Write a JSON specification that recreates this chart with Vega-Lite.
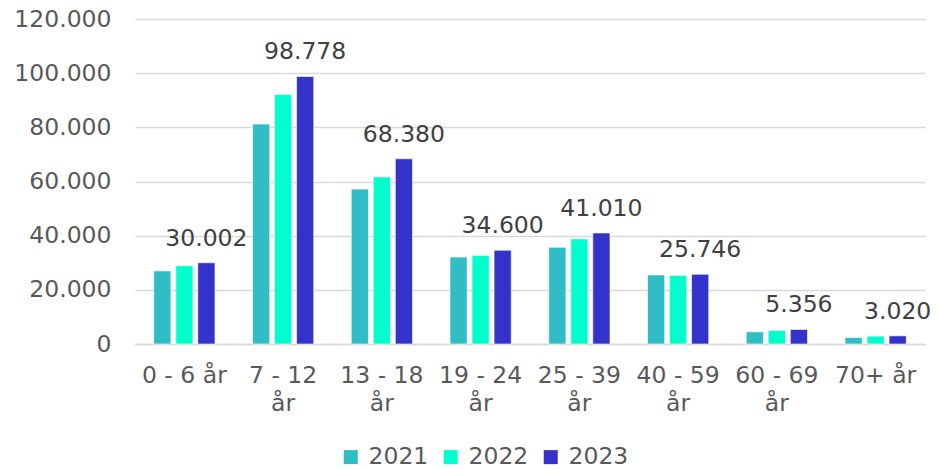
{
  "$schema": "https://vega.github.io/schema/vega-lite/v6.json",
  "autosize": {"type": "none"},
  "padding": {"left": 135, "top": 19, "right": 13, "bottom": 125},
  "width": 790,
  "height": 325,
  "background": "#ffffff",
  "config": {
    "locale": {"number": {"decimal": ",", "thousands": ".", "grouping": [3], "currency": ["", " kr"]}},
    "font": "DejaVu Sans",
    "view": {"stroke": null}
  },
  "data": {
    "values": [
      {"group": "0 - 6 år", "year": "2021", "value": 27000},
      {"group": "0 - 6 år", "year": "2022", "value": 28900},
      {"group": "0 - 6 år", "year": "2023", "value": 30002},
      {"group": "7 - 12 år", "year": "2021", "value": 81200},
      {"group": "7 - 12 år", "year": "2022", "value": 92100},
      {"group": "7 - 12 år", "year": "2023", "value": 98778},
      {"group": "13 - 18 år", "year": "2021", "value": 57200},
      {"group": "13 - 18 år", "year": "2022", "value": 61700},
      {"group": "13 - 18 år", "year": "2023", "value": 68380},
      {"group": "19 - 24 år", "year": "2021", "value": 32100},
      {"group": "19 - 24 år", "year": "2022", "value": 32700},
      {"group": "19 - 24 år", "year": "2023", "value": 34600},
      {"group": "25 - 39 år", "year": "2021", "value": 35700},
      {"group": "25 - 39 år", "year": "2022", "value": 38800},
      {"group": "25 - 39 år", "year": "2023", "value": 41010},
      {"group": "40 - 59 år", "year": "2021", "value": 25500},
      {"group": "40 - 59 år", "year": "2022", "value": 25300},
      {"group": "40 - 59 år", "year": "2023", "value": 25746},
      {"group": "60 - 69 år", "year": "2021", "value": 4500},
      {"group": "60 - 69 år", "year": "2022", "value": 5000},
      {"group": "60 - 69 år", "year": "2023", "value": 5356},
      {"group": "70+ år", "year": "2021", "value": 2400},
      {"group": "70+ år", "year": "2022", "value": 2900},
      {"group": "70+ år", "year": "2023", "value": 3020}
    ]
  },
  "encoding": {
    "x": {
      "field": "group",
      "type": "nominal",
      "sort": null,
      "scale": {"paddingInner": 0.38, "paddingOuter": 0.19},
      "axis": {
        "title": null,
        "labelAngle": 0,
        "labelFontSize": 23.5,
        "labelColor": "#595959",
        "labelPadding": 19,
        "labelLineHeight": 28,
        "labelExpr": "length(datum.label) > 8 ? [slice(datum.label, 0, -3), 'år'] : datum.label",
        "ticks": false,
        "domainColor": "#d9d9d9",
        "domainWidth": 1.5,
        "labelLimit": 200
      }
    },
    "xOffset": {"field": "year", "type": "nominal", "scale": {"paddingInner": 0.22, "paddingOuter": 0}},
    "y": {
      "field": "value",
      "type": "quantitative",
      "scale": {"domain": [0, 120000], "nice": false},
      "axis": {
        "title": null,
        "values": [0, 20000, 40000, 60000, 80000, 100000, 120000],
        "format": ",d",
        "labelFontSize": 23.5,
        "labelColor": "#595959",
        "labelPadding": 24,
        "ticks": false,
        "domain": false,
        "gridColor": "#d9d9d9",
        "gridWidth": 1.3
      }
    }
  },
  "layer": [
    {
      "mark": {"type": "bar", "stroke": "#ffffff", "strokeOpacity": 0.6, "strokeWidth": 1},
      "encoding": {
        "color": {
          "field": "year",
          "type": "nominal",
          "scale": {"domain": ["2021", "2022", "2023"], "range": ["#31BDC6", "#00FFCC", "#3333CC"]},
          "legend": {
            "title": null,
            "orient": "none",
            "direction": "horizontal",
            "legendX": 204,
            "legendY": 426,
            "symbolType": "square",
            "symbolSize": 196,
            "symbolStrokeWidth": 0,
            "labelFontSize": 23.5,
            "labelColor": "#595959",
            "labelOffset": 6,
            "columnPadding": 10
          }
        }
      }
    },
    {
      "transform": [{"filter": "datum.year == '2023'"}],
      "mark": {"type": "text", "baseline": "alphabetic", "dy": -17, "fontSize": 23.5, "color": "#404040"},
      "encoding": {
        "text": {"field": "value", "type": "quantitative", "format": ",d"}
      }
    }
  ]
}
